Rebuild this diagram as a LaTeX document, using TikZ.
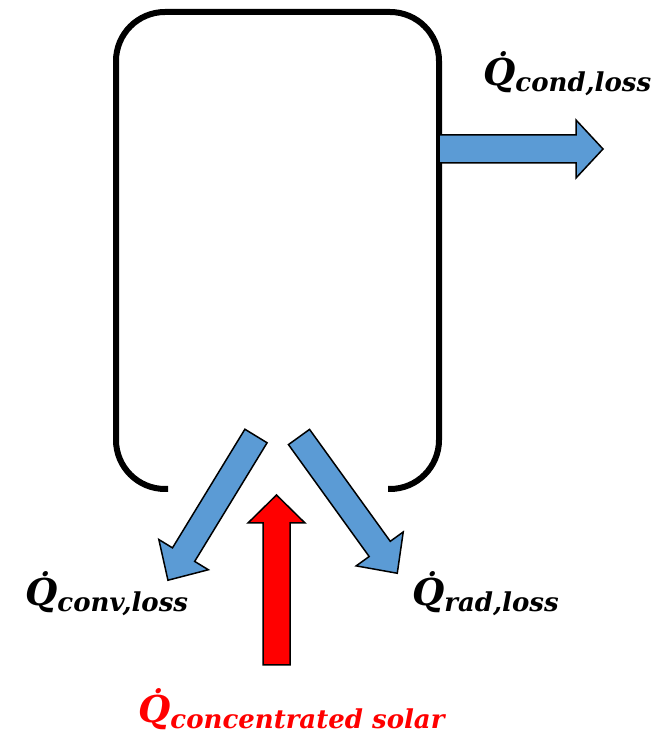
\documentclass[tikz,border=0pt]{standalone}
\usepackage{fontspec}
\setmainfont{DejaVu Serif}
\definecolor{lossblue}{HTML}{5B9BD5}
\definecolor{solarred}{HTML}{FF0000}
\newcommand{\qlabel}[1]{{\fontsize{37}{40}\selectfont\bfseries\itshape\.{Q}}\raisebox{-6pt}{\fontsize{26}{30}\selectfont\bfseries\itshape #1}}
% tail x, tail y, angle, length, shaft half width, head half width, head length, style
\newcommand{\blockarrow}[8]{%
  \begin{scope}[shift={(#1,#2)},rotate=#3]
    \draw[#8] (0,-#5) -- ({#4-#7},-#5) -- ({#4-#7},-#6) -- (#4,0) -- ({#4-#7},#6) -- ({#4-#7},#5) -- (0,#5) -- cycle;
  \end{scope}}
\begin{document}
\begin{tikzpicture}[x=1pt,y=1pt,
  vessel/.style={line width=6pt, rounded corners=49pt},
  bluearrow/.style={fill=lossblue, draw=black, line width=1.5pt, line join=miter},
  redarrow/.style={fill=solarred, draw=black, line width=1.5pt, line join=miter},
  lbl/.style={inner sep=0pt, anchor=base west}]
\useasboundingbox (0,0) rectangle (667,737);
% receiver vessel, open at the bottom
\draw[vessel] (168,248) -- (116,248) -- (116,725) -- (439,725) -- (439,248) -- (388,248);
% conduction loss
\blockarrow{439}{588}{0}{164}{14}{29}{27}{bluearrow}
% convection loss
\blockarrow{256}{301}{238.6}{169}{13}{29}{30}{bluearrow}
% radiation loss
\blockarrow{299}{300}{-54.2}{168}{13}{29}{30}{bluearrow}
% concentrated solar
\blockarrow{276.5}{72}{90}{170}{13.5}{28.5}{28}{redarrow}
% labels
\node[lbl] (cond) at (483,651) {\qlabel{cond,loss}};
\node[lbl] (conv) at (25,131) {\qlabel{conv,loss}};
\node[lbl] (rad) at (412,131) {\qlabel{rad,loss}};
\node[lbl, text=solarred] (solar) at (138,14) {\qlabel{concentrated solar}};
\end{tikzpicture}
\end{document}
